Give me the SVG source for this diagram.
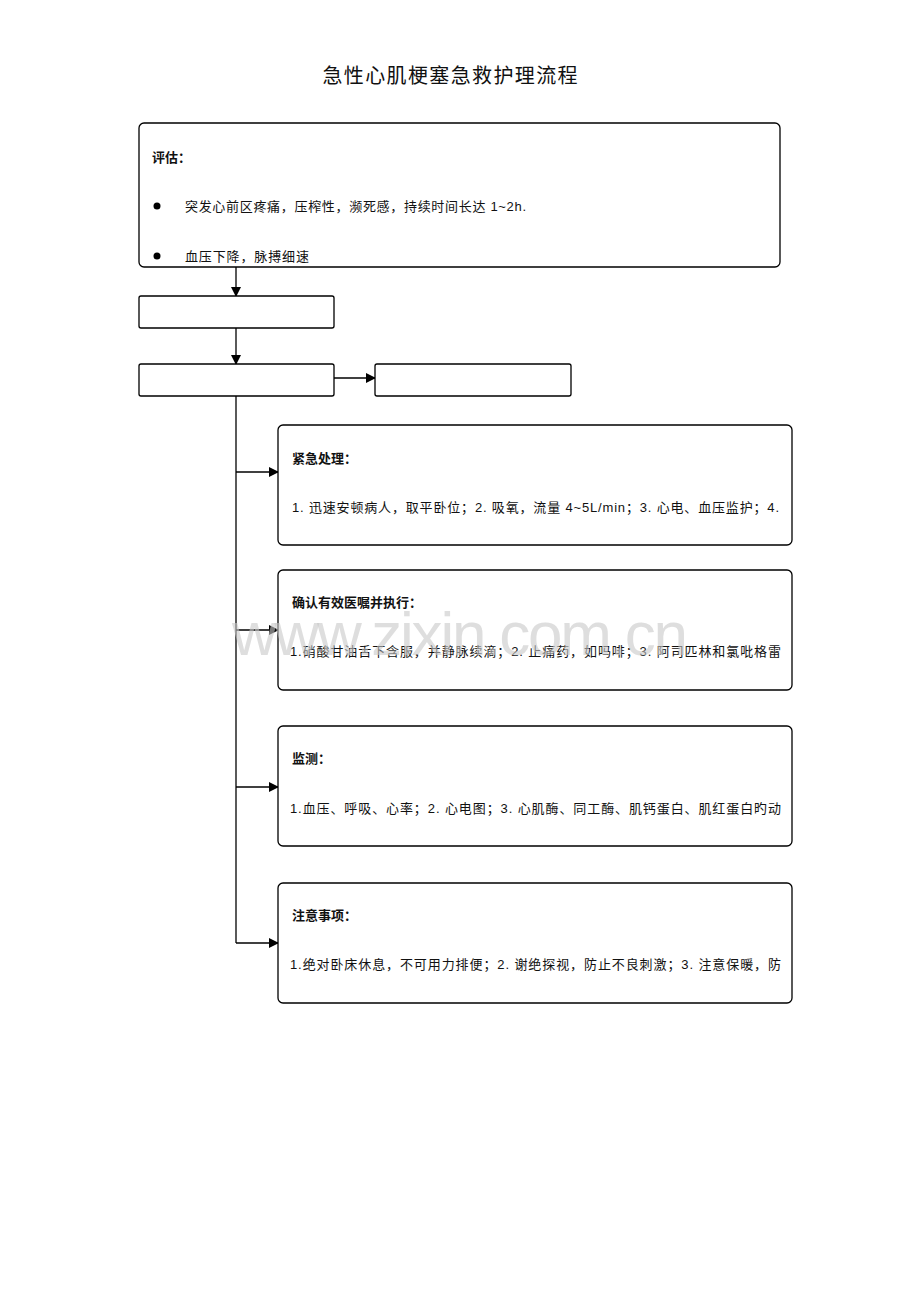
<svg xmlns="http://www.w3.org/2000/svg" width="920" height="1302" viewBox="0 0 920 1302">
<defs>
<marker id="arr" markerWidth="10" markerHeight="10" refX="9" refY="5" orient="auto" markerUnits="userSpaceOnUse">
<path d="M0,0 L10,5 L0,10 Z" fill="#000"/>
</marker>
<style>
.box{fill:#fff;stroke:#000;stroke-width:1.3}
.t{font-family:"Liberation Sans","Noto Sans CJK SC",sans-serif;font-size:13px;fill:#111}
.b{font-weight:bold}
.c{stroke:#000;stroke-width:1.3;fill:none}
</style>
</defs>
<rect width="920" height="1302" fill="#fff"/>
<text x="450" y="83" text-anchor="middle" font-family="'Noto Sans CJK SC',sans-serif" font-size="20" fill="#111" textLength="255">急性心肌梗塞急救护理流程</text>

<g id="connectors">
<line class="c" x1="236" y1="267" x2="236" y2="296" marker-end="url(#arr)"/>
<line class="c" x1="236" y1="328" x2="236" y2="364" marker-end="url(#arr)"/>
<line class="c" x1="334" y1="378" x2="375" y2="378" marker-end="url(#arr)"/>
<line class="c" x1="236" y1="396" x2="236" y2="943"/>
<line class="c" x1="236" y1="472" x2="278" y2="472" marker-end="url(#arr)"/>
<line class="c" x1="236" y1="630" x2="278" y2="630" marker-end="url(#arr)"/>
<line class="c" x1="236" y1="787" x2="278" y2="787" marker-end="url(#arr)"/>
<line class="c" x1="236" y1="943" x2="278" y2="943" marker-end="url(#arr)"/>
</g>

<g id="assess">
<rect class="box" x="139" y="123" width="641" height="144" rx="5"/>
<text class="t b" x="152" y="162">评估：</text>
<circle cx="157" cy="206" r="3.5" fill="#000"/>
<text class="t" x="185" y="211" textLength="341">突发心前区疼痛，压榨性，濒死感，持续时间长达 1~2h.</text>
<circle cx="157" cy="256" r="3.5" fill="#000"/>
<text class="t" x="185" y="261" textLength="124">血压下降，脉搏细速</text>
</g>

<g id="step2"><rect class="box" x="139" y="296" width="195" height="32" rx="2"/></g>
<g id="step3"><rect class="box" x="139" y="364" width="195" height="32" rx="2"/></g>
<g id="step4"><rect class="box" x="375" y="364" width="196" height="32" rx="2"/></g>

<g id="emergency">
<rect class="box" x="278" y="425" width="514" height="120" rx="5"/>
<text class="t b" x="292" y="463">紧急处理：</text>
<text class="t" x="292" y="512" textLength="487">1. 迅速安顿病人，取平卧位；2. 吸氧，流量 4~5L/min；3. 心电、血压监护；4.</text>
</g>

<g id="orders">
<rect class="box" x="278" y="570" width="514" height="120" rx="5"/>
<text class="t b" x="292" y="607">确认有效医嘱并执行：</text>
<text class="t" x="290" y="656" textLength="491">1.硝酸甘油舌下含服，并静脉续滴；2. 止痛药，如吗啡；3. 阿司匹林和氯吡格雷</text>
</g>

<g id="monitor">
<rect class="box" x="278" y="726" width="514" height="120" rx="5"/>
<text class="t b" x="292" y="763">监测：</text>
<text class="t" x="290" y="813" textLength="491">1.血压、呼吸、心率；2. 心电图；3. 心肌酶、同工酶、肌钙蛋白、肌红蛋白旳动</text>
</g>

<g id="notes">
<rect class="box" x="278" y="883" width="514" height="120" rx="5"/>
<text class="t b" x="292" y="920">注意事项：</text>
<text class="t" x="290" y="969" textLength="491">1.绝对卧床休息，不可用力排便；2. 谢绝探视，防止不良刺激；3. 注意保暖，防</text>
</g>

<text x="232" y="655" font-family="'Liberation Sans',sans-serif" font-size="62" fill="#c8c8c8" fill-opacity="0.6" textLength="456">www.zixin.com.cn</text>
</svg>
